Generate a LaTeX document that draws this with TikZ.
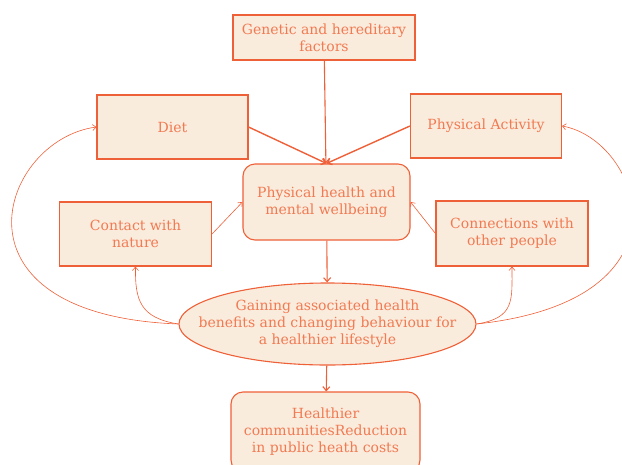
\documentclass[tikz,border=0pt]{standalone}
\usepackage{fontspec}
\setmainfont{DejaVu Serif}
\usetikzlibrary{shapes.geometric}
\usetikzlibrary{arrows.meta}
\definecolor{linec}{RGB}{238,96,56}
\definecolor{textc}{RGB}{241,122,82}
\definecolor{boxc}{RGB}{250,236,221}

\begin{document}
\begin{tikzpicture}[x=1pt,y=-1pt,
    box/.style={draw=linec, fill=boxc, line width=1.1pt, text=textc,
        align=center, inner sep=0pt,
        font=\fontsize{14}{17}\selectfont},
    roundbox/.style={box, rounded corners=12pt},
    oval/.style={box, ellipse},
    label text/.style={text=textc, align=center, inner sep=0pt,
        font=\fontsize{14}{17}\selectfont},
    flow/.style={draw=linec, line width=1.4pt, -{Straight Barb[length=4pt,width=7pt]}},
    link/.style={draw=linec, line width=0.6pt, -{Straight Barb[length=3.5pt,width=6pt]}}
    ]
    \useasboundingbox (0,0) rectangle (622,464);

    % Boxes
    \node[box, minimum width=182pt, minimum height=45pt] (gen) at (324,37.5)
        {Genetic and hereditary\\factors};
    \node[box, minimum width=151pt, minimum height=64pt] (diet) at (172.5,127) {Diet};
    \node[box, minimum width=151pt, minimum height=64pt] (act) at (486,126) {Physical Activity};
    \node[roundbox, minimum width=167pt, minimum height=76pt] (health) at (326.5,202)
        {Physical health and\\mental wellbeing};
    \node[box, minimum width=152pt, minimum height=64pt] (nature) at (135.5,234)
        {Contact with\\nature};
    \node[box, minimum width=152pt, minimum height=65pt] (people) at (512,233.5)
        {Connections with\\other people};
    \node[oval, minimum width=297pt, minimum height=82pt] (gain) at (327.5,324) {};
    \node[label text] (gaintext) at (gain)
        {Gaining associated health\\benefits and changing behaviour for\\a healthier lifestyle};
    \node[roundbox, minimum width=189pt, minimum height=80pt] (comm) at (325.5,432)
        {Healthier\\communitiesReduction\\in public heath costs};

    % Connections
    \draw[flow, line width=1.1pt] (gen) -- (health);
    \draw[flow] (diet.east) -- (health.north);
    \draw[flow] (act.west) -- (health.north);
    \draw[link] (nature.east) -- (health.west);
    \draw[link] (people.west) -- (health.east);
    \draw[flow, line width=1.1pt] (health) -- (gain);
    \draw[flow, line width=1.1pt] (gain) -- (comm);

    % Loops back
    \draw[link] (gain.west) .. controls (140,318) and (135,300) .. (nature.south);
    \draw[link] (gain.east) .. controls (515,318) and (512,300) .. (people.south);
    \draw[link] (gain.west) .. controls (-60,315) and (0,140) .. (diet.west);
    \draw[link] (gain.east) .. controls (700,300) and (640,140) .. (act.east);
\end{tikzpicture}
\end{document}
